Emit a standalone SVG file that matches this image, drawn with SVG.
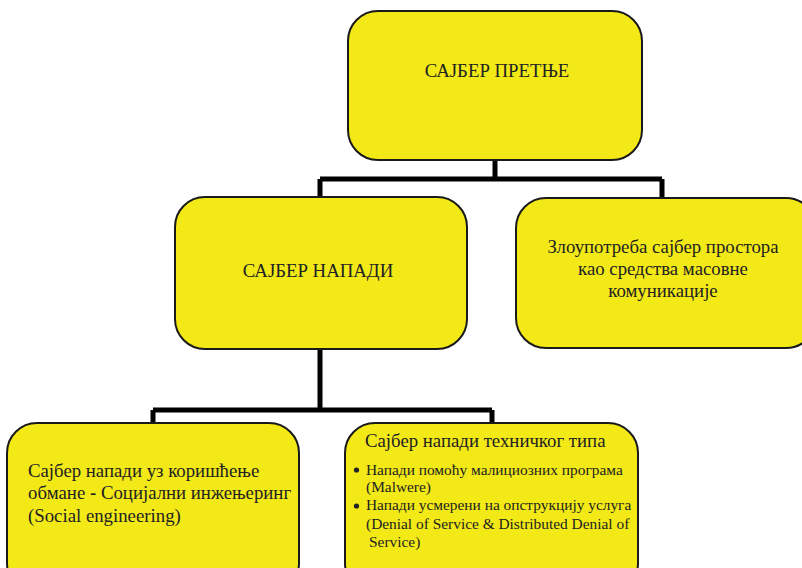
<svg xmlns="http://www.w3.org/2000/svg" width="802" height="568" viewBox="0 0 802 568">
<style>
.box{fill:#F2E917;stroke:#1a1a1a;stroke-width:2}
.t{font-family:"Liberation Serif","Times New Roman",serif;fill:#222;font-size:18.8px}
.s{font-size:15.4px}
.c{stroke:#000;stroke-width:5;fill:none}
.b{fill:#222}
</style>
<rect width="802" height="568" fill="#fff"/>
<g id="connectors">
<path class="c" d="M495 160V179M320 179H662M320 179V197M662 179V198"/>
<path class="c" d="M320 349V410M153 410H492M153 410V423M492 410V423"/>
</g>
<g id="n1">
<rect class="box" x="348" y="11" width="294" height="149" rx="30"/>
<text class="t" x="497" y="77" text-anchor="middle" font-size="19.8">САЈБЕР ПРЕТЊЕ</text>
</g>
<g id="n2">
<rect class="box" x="175" y="197" width="292" height="152" rx="30"/>
<text class="t" x="318" y="277" text-anchor="middle" font-size="19">САЈБЕР НАПАДИ</text>
</g>
<g id="n3">
<rect class="box" x="516" y="198" width="300" height="150" rx="30"/>
<text class="t" x="663" y="253" text-anchor="middle">Злоупотреба сајбер простора</text>
<text class="t" x="663" y="275" text-anchor="middle">као средства масовне</text>
<text class="t" x="663" y="297" text-anchor="middle">комуникације</text>
</g>
<g id="n4">
<rect class="box" x="7" y="423" width="292" height="170" rx="30"/>
<text class="t" x="28" y="477">Сајбер напади уз коришћење</text>
<text class="t" x="28" y="499">обмане <tspan font-weight="bold">-</tspan> Социјални инжењеринг</text>
<text class="t" x="28" y="522">(Social engineering)</text>
</g>
<g id="n5">
<rect class="box" x="345" y="423" width="293" height="170" rx="30"/>
<text class="t" x="365" y="447">Сајбер напади техничког типа</text>
<circle class="b" cx="356.5" cy="470" r="2.6"/>
<text class="t s" x="366" y="475">Напади помоћу малициозних програма</text>
<text class="t s" x="366" y="492">(Malwere)</text>
<circle class="b" cx="356.5" cy="506" r="2.6"/>
<text class="t s" x="366" y="510">Напади усмерени на опструкцију услуга</text>
<text class="t s" x="366" y="529">(Denial of Service &amp; Distributed Denial of</text>
<text class="t s" x="369" y="547">Service)</text>
</g>
</svg>
